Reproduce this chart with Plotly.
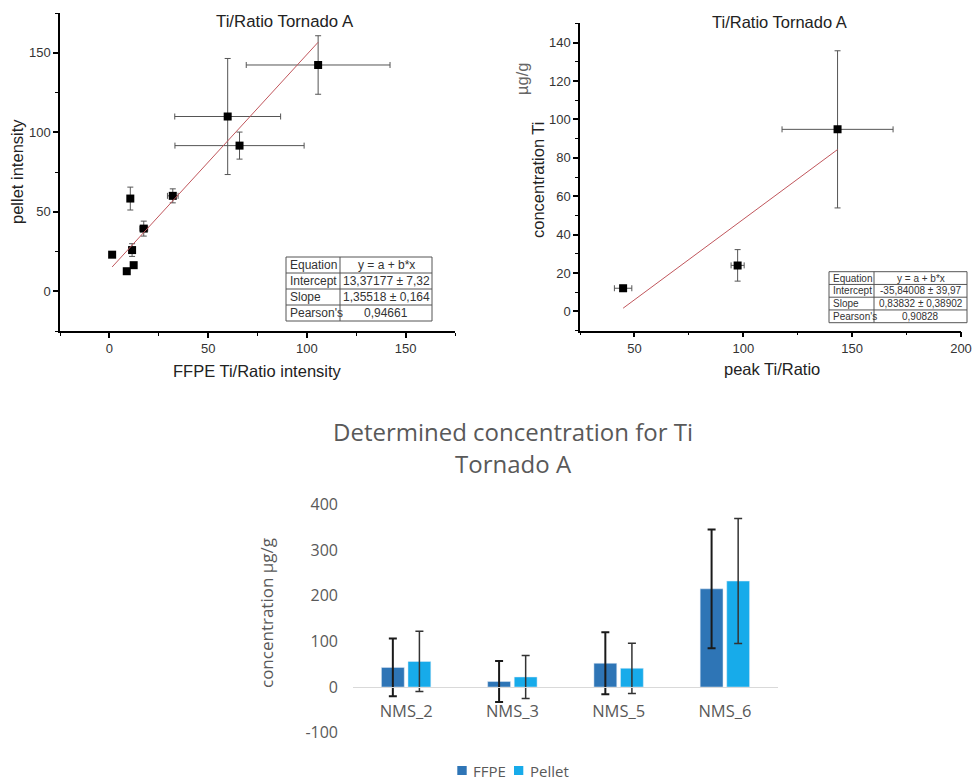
import plotly.graph_objects as go

W, H = 973, 780

# ---------------- data ----------------
# top-left: FFPE vs pellet intensity
ffpe_ratio = [1.4, 8.8, 10.6, 11.5, 12.3, 17.4, 32.1, 59.9, 65.9, 105.7]
ffpe_ratio_err = [0.5, 0.3, 0.8, 1.0, 0.5, 2.0, 2.7, 26.8, 32.7, 36.4]
pellet_int = [23.0, 12.6, 58.3, 25.9, 16.4, 39.4, 60.0, 109.9, 91.6, 142.3]
pellet_int_err = [1.5, 0.5, 7.2, 4.0, 0.8, 4.7, 4.4, 36.5, 8.5, 18.4]
fit1_intercept = 13.37177
fit1_slope = 1.35518

# top-right: peak ratio vs concentration
peak_ratio = [44.8, 97.4, 143.3]
peak_ratio_err = [4.0, 3.0, 25.5]
conc_ti = [12.1, 24.0, 94.8]
conc_ti_err = [1.5, 8.2, 40.9]
fit2_intercept = -35.84008
fit2_slope = 0.83832

table_labels = ["Equation", "Intercept", "Slope", "Pearson's"]
table1_values = ["y = a + b*x", "13,37177 ± 7,32", "1,35518 ± 0,164", "0,94661"]
table2_values = ["y = a + b*x", "-35,84008 ± 39,97", "0,83832 ± 0,38902", "0,90828"]

# bottom: bar chart
samples = ["NMS_2", "NMS_3", "NMS_5", "NMS_6"]
series_names = ["FFPE", "Pellet"]
series_colors = ["#2E75B6", "#17ABEA"]
ffpe_conc = [43, 12, 52, 215]
ffpe_conc_err = [63, 45, 68, 130]
pellet_conc = [56, 22, 41, 232]
pellet_conc_err = [66, 47, 55, 137]
bar_y_ticks = [-100, 0, 100, 200, 300, 400]
bar_y_ticklabels = ["-100", "0", "100", "200", "300", "400"]


def px(x):
    return x / W


def py(y):
    return 1 - y / H


ORIGIN_FONT = "Liberation Sans, Arial, sans-serif"
EXCEL_FONT = "Open Sans, Noto Sans, sans-serif"
FIT_COLOR = "#c0565c"
ERR_COLOR = "#555555"

fig = go.Figure()

# ---- top-left scatter ----
fig.add_trace(go.Scatter(
    x=ffpe_ratio, y=pellet_int, mode="markers",
    marker=dict(symbol="square", size=8, color="black"),
    error_x=dict(type="data", array=ffpe_ratio_err, color=ERR_COLOR, thickness=1, width=3),
    error_y=dict(type="data", array=pellet_int_err, color=ERR_COLOR, thickness=1, width=3),
    xaxis="x", yaxis="y", showlegend=False))
fx1 = [min(ffpe_ratio), max(ffpe_ratio)]
fig.add_trace(go.Scatter(
    x=fx1, y=[fit1_intercept + fit1_slope * v for v in fx1], mode="lines",
    line=dict(color=FIT_COLOR, width=1), xaxis="x", yaxis="y", showlegend=False))

# ---- top-right scatter ----
fig.add_trace(go.Scatter(
    x=peak_ratio, y=conc_ti, mode="markers",
    marker=dict(symbol="square", size=8, color="black"),
    error_x=dict(type="data", array=peak_ratio_err, color=ERR_COLOR, thickness=1, width=3),
    error_y=dict(type="data", array=conc_ti_err, color=ERR_COLOR, thickness=1, width=3),
    xaxis="x2", yaxis="y2", showlegend=False))
fx2 = [min(peak_ratio), max(peak_ratio)]
fig.add_trace(go.Scatter(
    x=fx2, y=[fit2_intercept + fit2_slope * v for v in fx2], mode="lines",
    line=dict(color=FIT_COLOR, width=1), xaxis="x2", yaxis="y2", showlegend=False))

# ---- bottom bars ----
fig.add_trace(go.Bar(
    x=samples, y=ffpe_conc, name=series_names[0], marker_color=series_colors[0],
    error_y=dict(type="data", array=ffpe_conc_err, color="#1a1a1a", thickness=2, width=4),
    xaxis="x3", yaxis="y3", showlegend=False))
fig.add_trace(go.Bar(
    x=samples, y=pellet_conc, name=series_names[1], marker_color=series_colors[1],
    error_y=dict(type="data", array=pellet_conc_err, color="#333333", thickness=1.5, width=4),
    xaxis="x3", yaxis="y3", showlegend=False))

origin_axis = dict(
    showline=True, linecolor="black", linewidth=1.5, mirror=False,
    ticks="outside", ticklen=5, tickwidth=1.5, tickcolor="black",
    showgrid=False, zeroline=False, automargin=False,
    tickfont=dict(family=ORIGIN_FONT, size=13, color="#333333"),
)
minor_style = dict(ticks="outside", ticklen=3, tick0=0, tickcolor="black", tickwidth=1.2)

fig.update_layout(
    width=W, height=H,
    margin=dict(l=0, r=0, t=0, b=0, autoexpand=False),
    paper_bgcolor="white", plot_bgcolor="white",
    barmode="group", bargap=0.5, bargroupgap=0.14,
    showlegend=False,
    xaxis=dict(domain=[px(60), px(455)], range=[-25, 175], tick0=0, dtick=50,
               anchor="y", minor=dict(dtick=25, **minor_style), **origin_axis),
    yaxis=dict(domain=[py(331), py(13)], range=[-25, 175], tick0=0, dtick=50,
               anchor="x", minor=dict(dtick=25, **minor_style), **origin_axis),
    xaxis2=dict(domain=[px(580), px(961)], range=[25, 200], tick0=0, dtick=50,
                anchor="y2", minor=dict(dtick=25, **minor_style), **origin_axis),
    yaxis2=dict(domain=[py(330.7), py(23.3)], range=[-10, 150], tick0=0, dtick=20,
                anchor="x2", minor=dict(dtick=10, **minor_style), **origin_axis),
    xaxis3=dict(domain=[px(353), px(778)], anchor="free", position=py(687.3),
                showline=True, linecolor="#d9d9d9", linewidth=1, ticks="",
                showgrid=False, zeroline=False, automargin=False, ticklabelstandoff=9,
                tickfont=dict(family=EXCEL_FONT, size=16.5, color="#595959")),
    yaxis3=dict(domain=[py(732.7), py(504.3)], range=[-100, 400],
                tickvals=bar_y_ticks, ticktext=bar_y_ticklabels,
                anchor="x3", showline=False, showgrid=False, zeroline=False, ticks="",
                automargin=False, ticklabelstandoff=14,
                tickfont=dict(family=EXCEL_FONT, size=16, color="#595959")),
)

ann = []
shapes = []


def text(x, y, s, size, color="#111111", family=ORIGIN_FONT, angle=0, xanchor="center"):
    ann.append(dict(x=px(x), y=py(y), xref="paper", yref="paper", text=s, showarrow=False,
                    xanchor=xanchor, yanchor="middle", textangle=angle,
                    font=dict(family=family, size=size, color=color)))


# titles and axis titles for the Origin plots
text(285, 21, "Ti/Ratio Tornado A", 16.8, "#222222")
text(779, 22, "Ti/Ratio Tornado A", 16.5, "#222222")
text(257, 371, "FFPE Ti/Ratio intensity", 16.5, "#222222")
text(772, 369, "peak Ti/Ratio", 16.5, "#222222")
text(17, 172, "pellet intensity", 16.5, "#222222", angle=-90)
text(538, 180, "concentration Ti", 16.5, "#222222", angle=-90)
text(522, 79, "µg/g", 16.5, "#666666", angle=-90)

# bar chart texts
text(513, 431, "Determined concentration for Ti", 24, "#595959", family=EXCEL_FONT)
text(513, 463, "Tornado A", 24, "#595959", family=EXCEL_FONT)
text(266, 613, "concentration µg/g", 17, "#595959", family=EXCEL_FONT, angle=-90)

# legend for the bar chart
legend_sq = [(457.3, 466.7), (514, 523.3)]
for (sx0, sx1), name, col in zip(legend_sq, series_names, series_colors):
    shapes.append(dict(type="rect", xref="paper", yref="paper", x0=px(sx0), x1=px(sx1),
                       y0=py(775), y1=py(766), line=dict(width=0), fillcolor=col))
    text(sx1 + 4.5, 770.5, name, 15, "#595959", family=EXCEL_FONT, xanchor="left")


def table(x0, x1, xdiv, y0, y1, labels, values, size):
    n = len(labels)
    rh = (y1 - y0) / n
    line = dict(color="#555555", width=1)
    shapes.append(dict(type="rect", xref="paper", yref="paper", x0=px(x0), x1=px(x1),
                       y0=py(y1), y1=py(y0), line=line, fillcolor="white", layer="above"))
    shapes.append(dict(type="line", xref="paper", yref="paper", x0=px(xdiv), x1=px(xdiv),
                       y0=py(y1), y1=py(y0), line=line, layer="above"))
    for i in range(1, n):
        yy = y0 + i * rh
        shapes.append(dict(type="line", xref="paper", yref="paper", x0=px(x0), x1=px(x1),
                           y0=py(yy), y1=py(yy), line=line, layer="above"))
    for i, (lab, val) in enumerate(zip(labels, values)):
        yc = y0 + (i + 0.5) * rh
        text(x0 + 2, yc, lab, size, "#333333", xanchor="left")
        text((xdiv + x1) / 2, yc, val, size, "#333333")


table(286, 432, 340, 257, 321, table_labels, table1_values, 12)
table(829, 967, 874, 271.7, 322.7, table_labels, table2_values, 10)

fig.update_layout(annotations=ann, shapes=shapes)

fig.write_html(
    "out.html",
    config={"displayModeBar": False},
    post_script="document.body.style.margin='0';document.body.style.padding='0';"
                "document.body.style.overflow='hidden';",
)
